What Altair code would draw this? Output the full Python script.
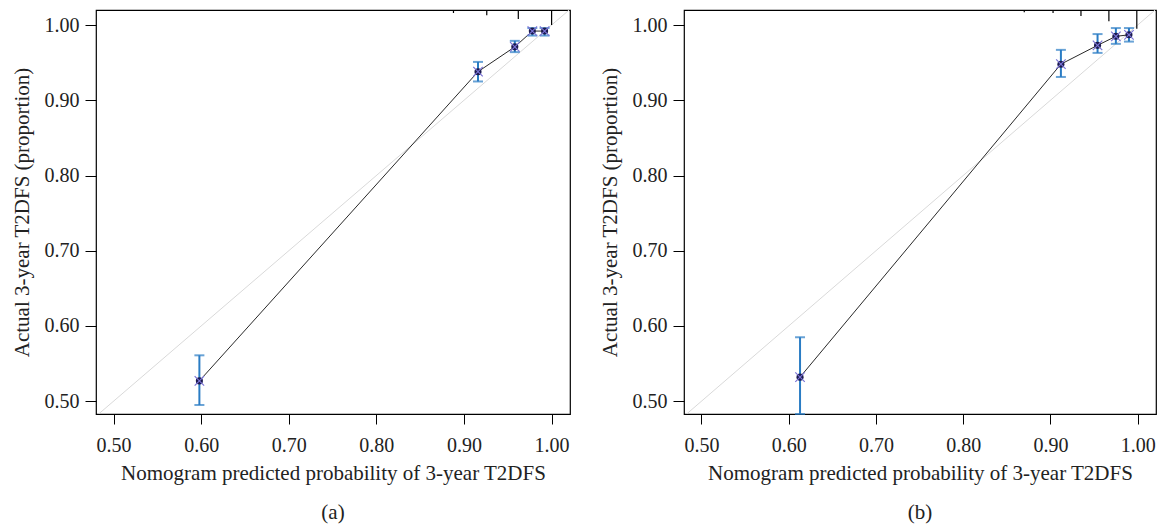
import altair as alt
import pandas as pd

# ---- data ----
pred_a = [0.598, 0.916, 0.958, 0.978, 0.992]
obs_a = [0.527, 0.938, 0.971, 0.992, 0.992]
lo_a = [0.495, 0.925, 0.964, 0.986, 0.986]
hi_a = [0.561, 0.951, 0.979, 0.996, 0.996]
spike_x_a = [0.888, 0.926, 0.962, 1.000]
spike_len_a = [0.004, 0.007, 0.012, 0.020]

pred_b = [0.613, 0.912, 0.954, 0.975, 0.990]
obs_b = [0.532, 0.948, 0.973, 0.985, 0.987]
lo_b = [0.483, 0.931, 0.963, 0.975, 0.978]
hi_b = [0.585, 0.967, 0.988, 0.996, 0.996]
spike_x_b = [0.870, 0.903, 0.935, 0.967, 0.999]
spike_len_b = [0.003, 0.004, 0.008, 0.015, 0.025]

x_ticks = [0.5, 0.6, 0.7, 0.8, 0.9, 1.0]
y_ticks = [0.5, 0.6, 0.7, 0.8, 0.9, 1.0]
x_dom = [0.48, 1.021]
y_dom = [0.483, 1.02]
diag = [0.48, 1.02]

x_title = "Nomogram predicted probability of 3-year T2DFS"
y_title = "Actual 3-year T2DFS (proportion)"

FONT = "Liberation Serif"
FS = 20
TFS = 21
BLUE = "#2a7cc4"
NAVY = "#1b1a4e"
XCOL = "#7b74d6"


def panel(pred, obs, lo, hi, sx, slen, label, w):
    df = pd.DataFrame({"pred": pred, "obs": obs, "lo": lo, "hi": hi})
    sp = pd.DataFrame({"x": sx, "top": [y_dom[1]] * len(sx),
                       "bot": [y_dom[1] - l for l in slen]})
    dg = pd.DataFrame({"x": diag, "y": diag})

    xs = alt.Scale(domain=x_dom, nice=False, zero=False)
    ys = alt.Scale(domain=y_dom, nice=False, zero=False)
    xax = alt.Axis(values=x_ticks, format=".2f", title=x_title, grid=False,
                   domain=False, tickSize=10, tickColor="black", labelPadding=11,
                   titlePadding=7, labelFont=FONT, titleFont=FONT,
                   labelFontSize=FS, titleFontSize=TFS, titleFontWeight="normal",
                   labelColor="#222", titleColor="#222")
    yax = alt.Axis(values=y_ticks, format=".2f", title=y_title, grid=False,
                   domain=False, tickSize=11, tickColor="black", labelPadding=6,
                   titlePadding=12, labelFont=FONT, titleFont=FONT,
                   labelFontSize=FS, titleFontSize=TFS, titleFontWeight="normal",
                   labelColor="#222", titleColor="#222")

    base_x = alt.X("x:Q", scale=xs, axis=xax)
    base_y = alt.Y("y:Q", scale=ys, axis=yax)

    diag_l = alt.Chart(dg).mark_line(color="#d9d9d9", strokeWidth=1, clip=True).encode(
        x=base_x, y=base_y)
    line = alt.Chart(df).mark_line(color="#111", strokeWidth=0.9).encode(
        x=alt.X("pred:Q", scale=xs), y=alt.Y("obs:Q", scale=ys))
    err = alt.Chart(df).mark_rule(color=BLUE, strokeWidth=2).encode(
        x=alt.X("pred:Q", scale=xs), y=alt.Y("lo:Q", scale=ys), y2="hi:Q")
    cap_lo = alt.Chart(df).mark_tick(color=BLUE, orient="horizontal", size=10,
                                     thickness=2).encode(
        x=alt.X("pred:Q", scale=xs), y=alt.Y("lo:Q", scale=ys))
    cap_hi = alt.Chart(df).mark_tick(color=BLUE, orient="horizontal", size=10,
                                     thickness=2).encode(
        x=alt.X("pred:Q", scale=xs), y=alt.Y("hi:Q", scale=ys))
    dots = alt.Chart(df).mark_point(shape="circle", filled=True, color=NAVY,
                                    size=50, opacity=1).encode(
        x=alt.X("pred:Q", scale=xs), y=alt.Y("obs:Q", scale=ys))
    crosses = alt.Chart(df).mark_point(shape="M-1,-1L1,1M1,-1L-1,1", filled=False,
                                       color=XCOL, size=90, strokeWidth=1.2,
                                       opacity=1).encode(
        x=alt.X("pred:Q", scale=xs), y=alt.Y("obs:Q", scale=ys))
    spikes = alt.Chart(sp).mark_rule(color="black", strokeWidth=1.2).encode(
        x=alt.X("x:Q", scale=xs), y=alt.Y("top:Q", scale=ys), y2="bot:Q")

    return alt.layer(diag_l, line, spikes, err, cap_lo, cap_hi, dots, crosses).properties(
        width=w, height=404,
        title=alt.TitleParams(label, orient="bottom", font=FONT, fontSize=TFS,
                              fontWeight="normal", color="#222", offset=19))


pa = panel(pred_a, obs_a, lo_a, hi_a, spike_x_a, spike_len_a, "(a)", 474)
pb = panel(pred_b, obs_b, lo_b, hi_b, spike_x_b, spike_len_b, "(b)", 472)

chart = alt.hconcat(pa, pb, spacing=27).properties(
    padding={"left": 2, "top": 0, "right": 0, "bottom": 0}
).configure(background="white").configure_view(stroke="black", strokeWidth=1.2)

chart.save("out.html", embed_options={"renderer": "svg", "actions": False})
